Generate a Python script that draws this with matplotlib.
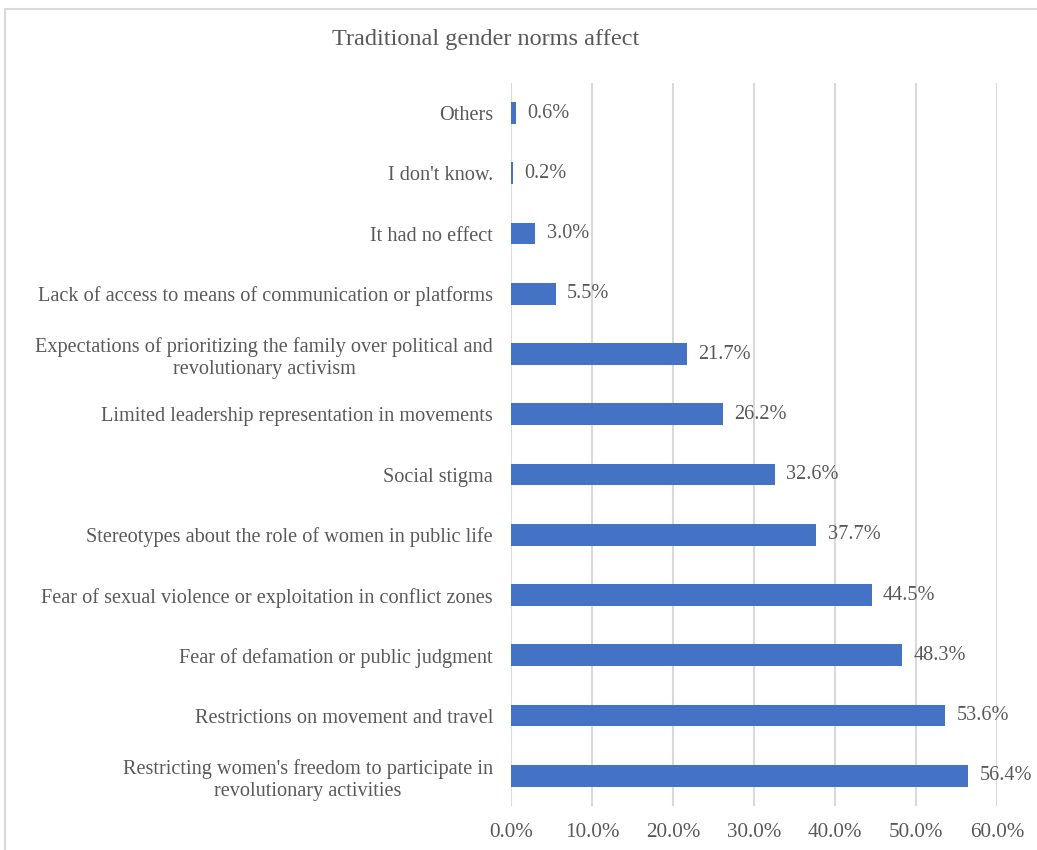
import matplotlib.pyplot as plt
from matplotlib.patches import Rectangle
from matplotlib.ticker import FuncFormatter

plt.rcParams['font.family'] = ['Liberation Serif', 'DejaVu Serif']

# categories from top to bottom as shown on the chart
categories = [
    "Others",
    "I don't know.",
    "It had no effect",
    "Lack of access to means of communication or platforms",
    "Expectations of prioritizing the family over political and\nrevolutionary activism",
    "Limited leadership representation in movements",
    "Social stigma",
    "Stereotypes about the role of women in public life",
    "Fear of sexual violence or exploitation in conflict zones",
    "Fear of defamation or public judgment",
    "Restrictions on movement and travel",
    "Restricting women's freedom to participate in\nrevolutionary activities",
]
shares = [0.6, 0.2, 3.0, 5.5, 21.7, 26.2, 32.6, 37.7, 44.5, 48.3, 53.6, 56.4]
xticks = [0, 10, 20, 30, 40, 50, 60]

text_color = "#595959"
bar_color = "#4472C4"
fs = 14.6

fig = plt.figure(figsize=(10.37, 8.5), dpi=100)
ax = fig.add_axes([0.4928, 0.0518, 0.4687, 0.8506])

# outer chart frame
fig.patches.append(Rectangle((0.005, -0.05), 1.2, 1.04, transform=fig.transFigure,
                             fill=False, edgecolor="#d9d9d9", linewidth=1.5))

ypos = list(range(len(categories)))
ax.barh(ypos, shares, height=0.36, color=bar_color, zorder=3)
for y, v in zip(ypos, shares):
    ax.text(v + 1.4, y, f"{v:.1f}%", va="center", ha="left",
            fontsize=fs, color=text_color, zorder=4)

ax.set_yticks(ypos)
ax.set_yticklabels(categories, fontsize=fs, color=text_color, multialignment="center")
ax.set_ylim(len(categories) - 0.5, -0.5)

ax.set_xlim(0, 60)
ax.set_xticks(xticks)
ax.xaxis.set_major_formatter(FuncFormatter(lambda v, _: f"{v:.1f}%"))
ax.tick_params(axis="x", labelsize=fs + 0.6, labelcolor=text_color, length=0, pad=12)
ax.tick_params(axis="y", length=0, pad=13)

ax.grid(axis="x", color="#d9d9d9", linewidth=1.5, zorder=0)
for side in ax.spines.values():
    side.set_visible(False)
ax.set_axisbelow(True)

fig.text(0.468, 0.953, "Traditional gender norms affect", ha="center", va="center",
         fontsize=17.5, color=text_color)

fig.savefig("out.png", dpi=100)
